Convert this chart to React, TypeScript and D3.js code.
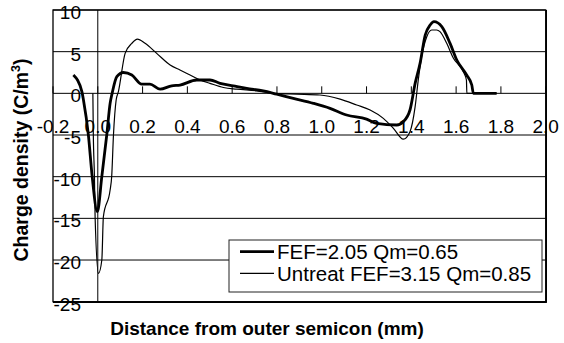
import React from "react";
import * as d3 from "d3";

// Charge density profiles across the insulation
const treatedX = [-0.109, -0.071, -0.064, -0.042, -0.025, -0.002, 0.018, 0.04, 0.055, 0.064, 0.085, 0.114, 0.152, 0.196, 0.233, 0.278, 0.33, 0.367, 0.442, 0.501, 0.546, 0.605, 0.665, 0.739, 0.799, 0.873, 0.963, 1.037, 1.111, 1.2, 1.245, 1.335, 1.364, 1.394, 1.417, 1.439, 1.462, 1.484, 1.501, 1.536, 1.573, 1.603, 1.647, 1.67, 1.677, 1.781];
const treatedV = [2.2, 0.2, -0.8, -5, -10, -14.2, -10, -5, -1.2, 0, 2.0, 2.5, 2.2, 1.1, 1.1, 0.5, 0.9, 1.0, 1.6, 1.6, 1.2, 0.9, 0.6, 0.3, -0.1, -0.6, -1.2, -1.8, -2.6, -3.1, -3.6, -3.8, -3.4, -2.0, 1.2, 3.6, 7.0, 8.2, 8.6, 8.0, 6.0, 4.0, 2.2, 1.0, 0, 0];

const untreatX = [-0.022, -0.02, -0.015, -0.012, 0.003, 0.018, 0.025, 0.055, 0.062, 0.07, 0.082, 0.092, 0.122, 0.152, 0.177, 0.211, 0.263, 0.323, 0.367, 0.412, 0.457, 0.501, 0.561, 0.62, 0.71, 0.784, 0.888, 0.992, 1.082, 1.156, 1.216, 1.275, 1.32, 1.364, 1.394, 1.417, 1.431, 1.446, 1.469, 1.491, 1.513, 1.528, 1.558, 1.588, 1.632, 1.646, 1.648, 1.781];
const untreatV = [0, -4.8, -10, -14.8, -21.6, -20, -14.8, -11.6, -10, -5, -0.8, 0.2, 4.8, 6.0, 6.5, 6.0, 4.8, 3.4, 2.8, 2.2, 1.6, 1.2, 0.7, 0.5, 0.3, 0, -0.1, -0.2, -0.7, -1.4, -2.0, -3.0, -4.2, -5.5, -4.6, -1.6, 1.6, 4.4, 6.8, 7.6, 7.6, 7.4, 6.0, 4.2, 2.6, 1.6, 0, 0];

const seriesNames = ["FEF=2.05 Qm=0.65", "Untreat FEF=3.15 Qm=0.85"];
const xTicks = [-0.2, 0.0, 0.2, 0.4, 0.6, 0.8, 1.0, 1.2, 1.4, 1.6, 1.8, 2.0];
const yTicks = [10, 5, 0, -5, -10, -15, -20, -25];

const W = 564;
const H = 343;
const plot = { left: 53, right: 545.7, top: 10, bottom: 301.7 };
const font = "'Liberation Sans', Arial, sans-serif";

export default function App() {
  const x = d3.scaleLinear().domain([-0.2, 2.0]).range([plot.left, plot.right]);
  const y = d3.scaleLinear().domain([-25, 10]).range([plot.bottom, plot.top]);

  const line = d3
    .line<[number, number]>()
    .x((d) => x(d[0]))
    .y((d) => y(d[1]))
    .curve(d3.curveMonotoneX);

  const treated = line(treatedX.map((v, i) => [v, treatedV[i]] as [number, number])) || "";
  const untreat = line(untreatX.map((v, i) => [v, untreatV[i]] as [number, number])) || "";

  const y0 = y(0);
  const legend = { x: 229, y: 240, w: 313, h: 52 };

  return (
    <svg
      width={W}
      height={H}
      style={{ position: "absolute", left: 0, top: 0, background: "#fff" }}
      fontFamily={font}
    >
      <rect x={0} y={0} width={W} height={H} fill="#fff" />

      {/* horizontal gridlines */}
      {yTicks.map((t) => (
        <line key={"g" + t} x1={plot.left} x2={plot.right} y1={y(t)} y2={y(t)} stroke="#000" strokeWidth={1} />
      ))}

      {/* value axis crossing at x = 0 */}
      <line x1={x(0)} x2={x(0)} y1={plot.top} y2={plot.bottom} stroke="#000" strokeWidth={1} />

      {/* category ticks on the zero line */}
      {xTicks.map((t) => (
        <line key={"t" + t} x1={x(t)} x2={x(t)} y1={y0 - 7} y2={y0} stroke="#000" strokeWidth={1} />
      ))}

      {/* plot frame */}
      <rect
        x={plot.left}
        y={plot.top}
        width={plot.right - plot.left}
        height={plot.bottom - plot.top}
        fill="none"
        stroke="#000"
        strokeWidth={1.3}
      />
      <line x1={plot.left} x2={plot.right + 1} y1={plot.bottom + 0.8} y2={plot.bottom + 0.8} stroke="#000" strokeWidth={1} />
      <line x1={plot.right + 0.8} x2={plot.right + 0.8} y1={plot.top} y2={plot.bottom + 1} stroke="#000" strokeWidth={1} />

      {/* series */}
      <path d={untreat} fill="none" stroke="#000" strokeWidth={1.2} strokeLinejoin="round" />
      <path d={treated} fill="none" stroke="#000" strokeWidth={2.8} strokeLinejoin="round" />

      {/* x tick labels */}
      {xTicks.map((t) => (
        <text key={"xl" + t} x={x(t)} y={132.5} fontSize={19} textAnchor="middle" fill="#000">
          {t.toFixed(1)}
        </text>
      ))}

      {/* y tick labels */}
      {yTicks.map((t) => (
        <text key={"yl" + t} x={81} y={y(t) + 9} fontSize={19} textAnchor="end" fill="#000">
          {t}
        </text>
      ))}

      {/* legend */}
      <rect x={legend.x} y={legend.y} width={legend.w} height={legend.h} fill="#fff" stroke="#222" strokeWidth={1} />
      <line x1={240} x2={274} y1={251.7} y2={251.7} stroke="#000" strokeWidth={2.8} />
      <text x={277} y={259} fontSize={20.5} fill="#000">{seriesNames[0]}</text>
      <line x1={240} x2={274} y1={273.3} y2={273.3} stroke="#000" strokeWidth={1.2} />
      <text x={277} y={281} fontSize={20.5} fill="#000">{seriesNames[1]}</text>

      {/* axis titles */}
      <text x={267} y={335} fontSize={19} fontWeight="bold" textAnchor="middle" fill="#000">
        Distance from outer semicon (mm)
      </text>
      <text transform="translate(28,160) rotate(-90)" fontSize={19.5} fontWeight="bold" textAnchor="middle" fill="#000">
        Charge density (C/m<tspan dy={-8} fontSize={12.5}>3</tspan><tspan dy={8}>)</tspan>
      </text>
    </svg>
  );
}
